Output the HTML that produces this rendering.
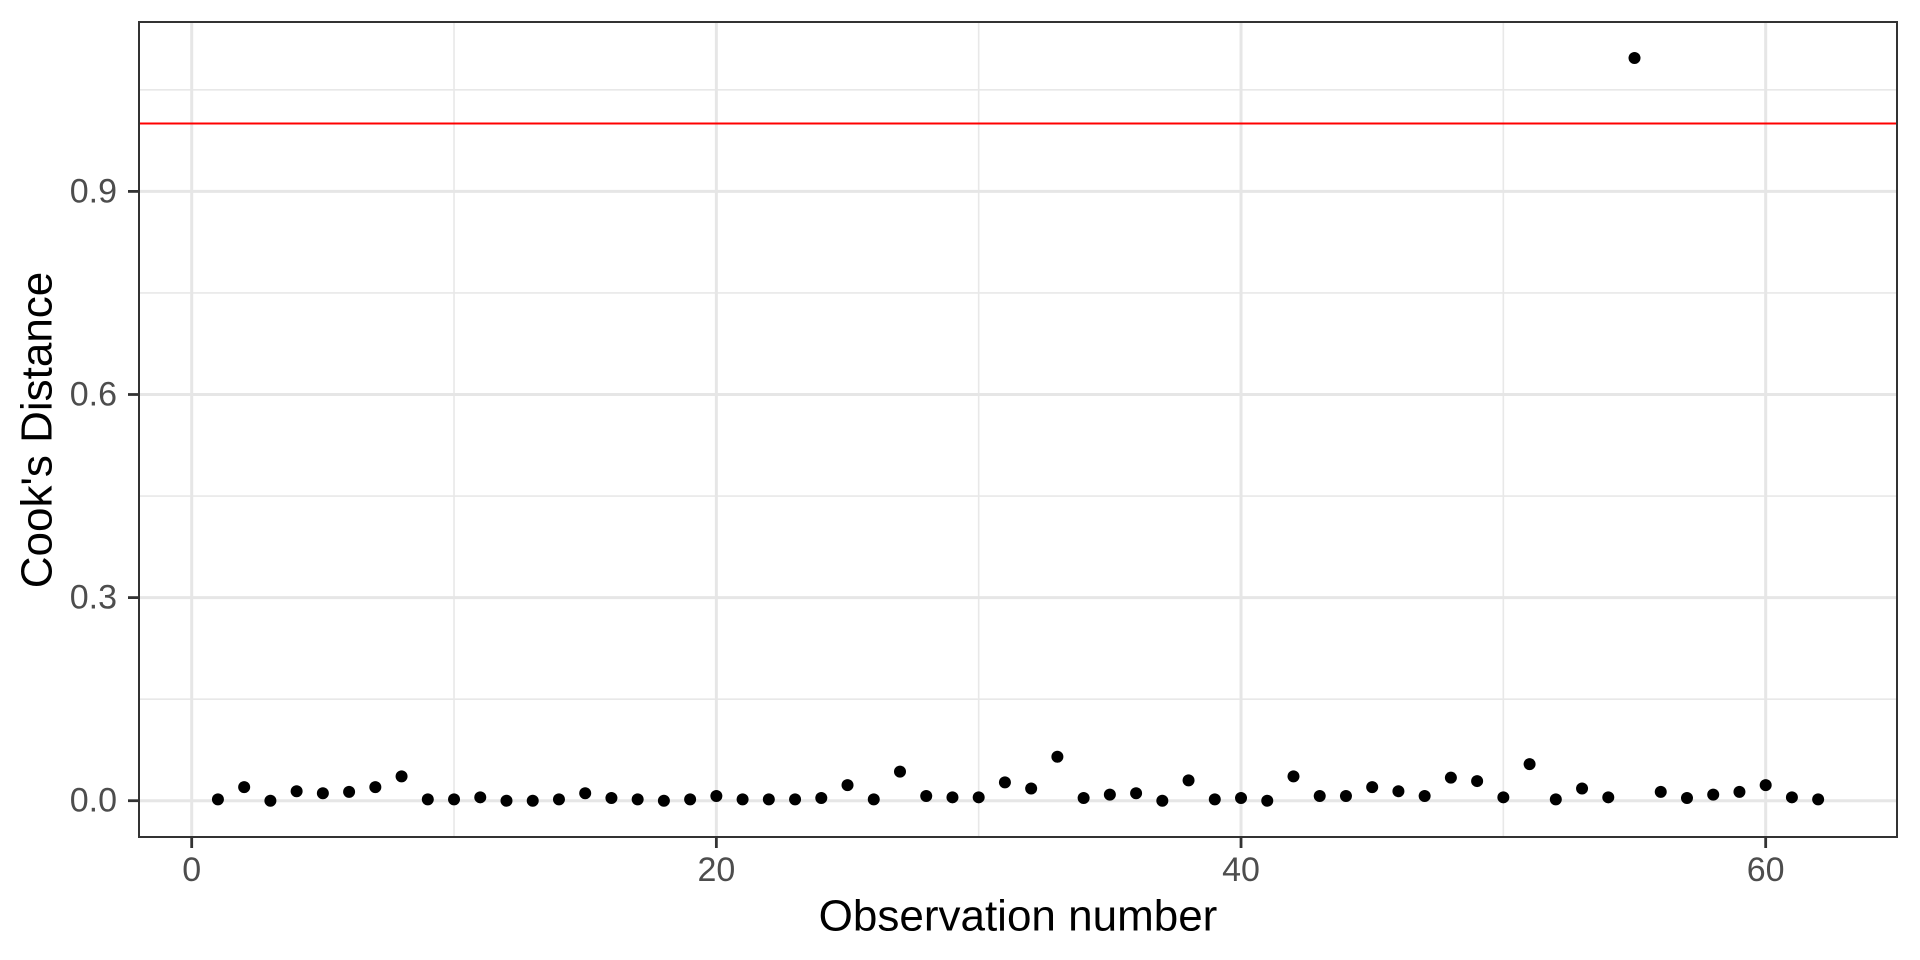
<!DOCTYPE html>
<html><head><meta charset="utf-8"><style>
html,body{margin:0;padding:0;background:#fff;}
svg{display:block;}
text{font-family:"Liberation Sans",Arial,sans-serif;}
</style></head><body>
<svg id="s" width="1920" height="960" xmlns="http://www.w3.org/2000/svg">
<rect width="1920" height="960" fill="#fff"/>
<g id="grid"></g>
<line x1="139" x2="1897" y1="123.5" y2="123.5" stroke="#ff0000" stroke-width="2"/>
<g id="pts"></g>
<rect x="139" y="22" width="1758" height="815" fill="none" stroke="#333" stroke-width="2"/>
<g id="ticks"></g>
<text x="37" y="430" font-size="44" fill="#000" text-anchor="middle" transform="rotate(-90 37 430)" dominant-baseline="central">Cook's Distance</text>
<text x="1018" y="916" font-size="44" fill="#000" text-anchor="middle" dominant-baseline="central">Observation number</text>
</svg>
<script>
var NS="http://www.w3.org/2000/svg";
function X(v){return 191.7+v*26.233;}
function Y(v){return 800.7-v*677;}
function el(p,t,a,txt){var e=document.createElementNS(NS,t);for(var k in a)e.setAttribute(k,a[k]);if(txt!==undefined)e.textContent=txt;document.getElementById(p).appendChild(e);}
[0.15,0.45,0.75,1.05].forEach(function(v){el("grid","line",{x1:139,x2:1897,y1:Y(v),y2:Y(v),stroke:"#e8e8e8","stroke-width":1.6});});
[10,30,50].forEach(function(v){el("grid","line",{x1:X(v),x2:X(v),y1:22,y2:837,stroke:"#e8e8e8","stroke-width":1.6});});
[0,0.3,0.6,0.9].forEach(function(v){el("grid","line",{x1:139,x2:1897,y1:Y(v),y2:Y(v),stroke:"#e6e6e6","stroke-width":3});
 el("ticks","line",{x1:128,x2:139,y1:Y(v),y2:Y(v),stroke:"#333","stroke-width":2.8});
 el("ticks","text",{x:117,y:Y(v),"font-size":34,fill:"#4d4d4d","text-anchor":"end","dominant-baseline":"central"},v.toFixed(1));});
[0,20,40,60].forEach(function(v){el("grid","line",{x1:X(v),x2:X(v),y1:22,y2:837,stroke:"#e6e6e6","stroke-width":3});
 el("ticks","line",{x1:X(v),x2:X(v),y1:837,y2:848,stroke:"#333","stroke-width":2.8});
 el("ticks","text",{x:X(v),y:870,"font-size":34,fill:"#4d4d4d","text-anchor":"middle","dominant-baseline":"central"},String(v));});
var d=[0.002,0.02,0,0.014,0.011,0.013,0.02,0.036,0.002,0.002,0.005,0,0,0.002,0.011,0.004,0.002,0,0.002,0.007,0.002,0.002,0.002,0.004,0.023,0.002,0.043,0.007,0.005,0.005,0.027,0.018,0.065,0.004,0.009,0.011,0,0.03,0.002,0.004,0,0.036,0.007,0.007,0.02,0.014,0.007,0.034,0.029,0.005,0.054,0.002,0.018,0.005,1.097,0.013,0.004,0.009,0.013,0.023,0.005,0.002];
d.forEach(function(v,i){el("pts","circle",{cx:X(i+1),cy:Y(v),r:6,fill:"#000"});});
</script>
</body></html>
